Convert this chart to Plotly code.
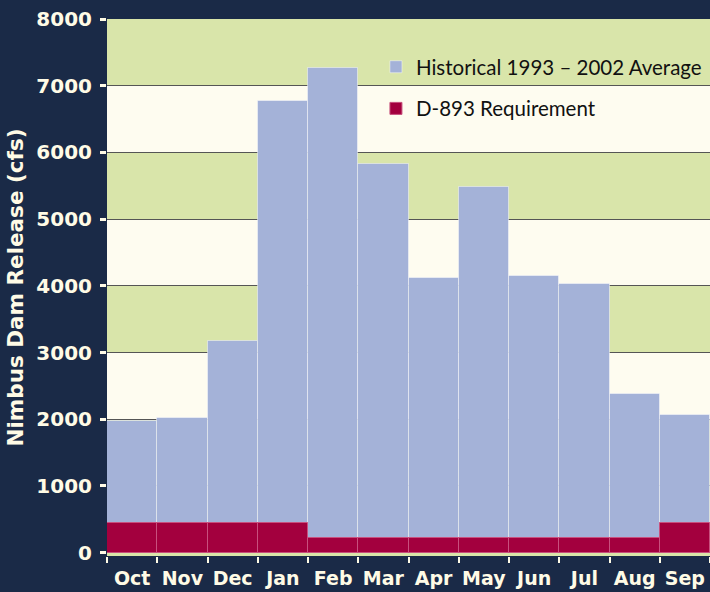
import plotly.graph_objects as go

months = ["Oct", "Nov", "Dec", "Jan", "Feb", "Mar", "Apr", "May", "Jun", "Jul", "Aug", "Sep"]
historical = [1980, 2020, 3180, 6770, 7270, 5830, 4110, 5480, 4150, 4030, 2380, 2070]
requirement = [450, 450, 450, 450, 220, 220, 220, 220, 220, 220, 220, 450]
y_ticks = [0, 1000, 2000, 3000, 4000, 5000, 6000, 7000, 8000]
cream_bands = [(2000, 3000), (4000, 5000), (6000, 7000)]

NAVY = "#1a2a47"
GREEN = "#d9e5aa"
CREAM = "#fefcf0"
TXT = "#fffbe6"
BOLD = "DejaVu Sans, sans-serif"

fig = go.Figure()
fig.add_trace(go.Bar(
    x=months, y=historical, name="Historical 1993 \u2013 2002 Average",
    marker=dict(color="#a4b2d8", line=dict(color="rgba(255,255,255,0.45)", width=1)),
    legendgroup="a",
))
fig.add_trace(go.Bar(
    x=months, y=requirement, name="D-893 Requirement",
    marker=dict(color="#a3003e", line=dict(color="#c8507e", width=1)),
    legendgroup="b",
))

for lo, hi in cream_bands:
    fig.add_shape(type="rect", xref="paper", x0=0, x1=1, yref="y", y0=lo, y1=hi,
                  fillcolor=CREAM, line=dict(width=0), layer="below")

fig.update_layout(
    width=710, height=592,
    paper_bgcolor=NAVY, plot_bgcolor=GREEN,
    margin=dict(l=107, r=0, t=19, b=36, autoexpand=False),
    barmode="overlay", bargap=0,
    font=dict(family="Lato, Open Sans, sans-serif", color=TXT),
    legend=dict(x=0.446, y=0.948, xanchor="left", yanchor="top",
                bgcolor="rgba(0,0,0,0)", font=dict(size=20.5, color="#111111"),
                tracegroupgap=12, traceorder="grouped", itemwidth=30),
    xaxis=dict(
        tickson="boundaries", ticks="outside", ticklen=6, tickwidth=2, tickcolor=TXT,
        tickangle=0, automargin=False, ticklabelstandoff=9,
        tickfont=dict(size=19, color=TXT, family=BOLD, weight="bold"),
        showgrid=False, showline=False, fixedrange=True,
    ),
    yaxis=dict(
        range=[-50, 8000], tickvals=y_ticks, ticks="outside", ticklen=6, tickwidth=3,
        tickcolor=TXT, ticklabelstandoff=4, ticklabeloverflow="allow", automargin=False,
        tickfont=dict(size=20, color=TXT, family=BOLD, weight="bold"),
        showgrid=True, gridcolor="#555555", gridwidth=1, zeroline=False,
        title=dict(text="Nimbus Dam Release (cfs)", standoff=6,
                   font=dict(size=21.5, color=TXT, family=BOLD, weight="bold")),
    ),
)

fig.write_html(
    "out.html",
    config={"displayModeBar": False},
    post_script="document.body.style.margin='0';document.body.style.background='%s';" % NAVY,
)
